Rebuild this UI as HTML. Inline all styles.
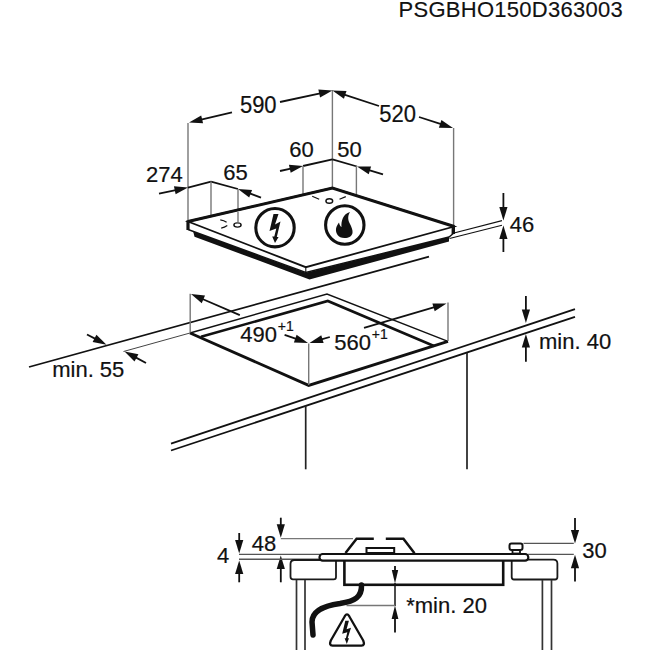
<!DOCTYPE html>
<html><head><meta charset="utf-8"><style>
html,body{margin:0;padding:0;background:#fff;width:650px;height:650px;overflow:hidden}
svg{display:block}
text{font-family:"Liberation Sans",sans-serif;fill:#111;stroke:#111;stroke-width:0.2px}
</style></head><body>
<svg width="650" height="650" viewBox="0 0 650 650">
<text x="398.6" y="16.6" font-size="22" text-anchor="start" letter-spacing="0.27" style="stroke-width:0.15px">PSGBHO150D363003</text>
<line x1="188" y1="123" x2="188" y2="221.5" stroke="#777" stroke-width="1.4"/>
<line x1="232" y1="112.3" x2="201.16250129531633" y2="119.61494155320403" stroke="#111" stroke-width="1.8"/>
<polygon points="189.00,122.50 201.19,115.39 203.08,123.37" fill="#111"/>
<text transform="translate(239.9 113) scale(1 1.06)" font-size="22" text-anchor="start" >590</text>
<line x1="280" y1="102" x2="320.185716357042" y2="93.25730598339162" stroke="#111" stroke-width="1.8"/>
<polygon points="332.40,90.60 320.08,97.48 318.34,89.46" fill="#111"/>
<line x1="332.4" y1="90" x2="332.4" y2="188" stroke="#777" stroke-width="1.4"/>
<line x1="379" y1="106" x2="344.26868955655294" y2="94.52227079765913" stroke="#111" stroke-width="1.8"/>
<polygon points="332.40,90.60 346.50,90.94 343.93,98.73" fill="#111"/>
<text transform="translate(379.2 121.6) scale(1 1.07)" font-size="22" text-anchor="start" >520</text>
<line x1="419" y1="117" x2="441.10694351806984" y2="124.15224643231672" stroke="#111" stroke-width="1.8"/>
<polygon points="453.00,128.00 438.89,127.75 441.42,119.94" fill="#111"/>
<line x1="453.6" y1="128" x2="453.6" y2="226.5" stroke="#777" stroke-width="1.4"/>
<line x1="280" y1="171" x2="290.785295450965" y2="168.65537055413805" stroke="#111" stroke-width="1.8"/>
<polygon points="303.00,166.00 290.68,172.87 288.94,164.86" fill="#111"/>
<line x1="303" y1="166" x2="332.4" y2="159.4" stroke="#111" stroke-width="1.8"/>
<line x1="332.4" y1="159.4" x2="357" y2="166.5" stroke="#111" stroke-width="1.8"/>
<line x1="383" y1="174.4" x2="368.9600935378653" y2="170.1340284211206" stroke="#111" stroke-width="1.8"/>
<polygon points="357.00,166.50 371.11,166.50 368.72,174.35" fill="#111"/>
<line x1="303" y1="166" x2="303" y2="195" stroke="#777" stroke-width="1.4"/>
<line x1="356.4" y1="166" x2="356.4" y2="195.6" stroke="#777" stroke-width="1.4"/>
<text transform="translate(289.2 156.5) scale(1 1.0)" font-size="22" text-anchor="start" >60</text>
<text transform="translate(337.2 156.5) scale(1 1.0)" font-size="22" text-anchor="start" >50</text>
<line x1="159" y1="193.6" x2="175.75924475616122" y2="190.13257005044937" stroke="#111" stroke-width="1.8"/>
<polygon points="188.00,187.60 175.61,194.35 173.95,186.32" fill="#111"/>
<line x1="188" y1="187.6" x2="211" y2="181.6" stroke="#111" stroke-width="1.8"/>
<line x1="211" y1="181.6" x2="238" y2="189" stroke="#111" stroke-width="1.8"/>
<line x1="261" y1="197.6" x2="249.7082934253598" y2="193.37788362861278" stroke="#111" stroke-width="1.8"/>
<polygon points="238.00,189.00 252.08,189.89 249.21,197.57" fill="#111"/>
<line x1="211" y1="181.6" x2="211" y2="216" stroke="#777" stroke-width="1.4"/>
<line x1="238" y1="189" x2="238" y2="222.5" stroke="#777" stroke-width="1.4"/>
<text transform="translate(146.01 182) scale(1 1.0)" font-size="22" text-anchor="start" >274</text>
<text transform="translate(223.3 179.5) scale(1 1.0)" font-size="22" text-anchor="start" >65</text>
<polygon points="193,230.8 305.8,272.7 449,236.8 449,241.5 309.5,279.4 194.5,236.8" stroke="#111" stroke-width="0" fill="#111" stroke-linejoin="miter" stroke-linecap="butt"/>
<polygon points="188,221.5 305.8,267.2 453,228 453,233.5 449,237 305.8,272.5 188,229.5" stroke="#111" stroke-width="0" fill="#fff" stroke-linejoin="miter" stroke-linecap="butt"/>
<line x1="305.8" y1="267.2" x2="305.8" y2="272.2" stroke="#111" stroke-width="1.1"/>
<polygon points="188,221.5 332.4,188 454.2,226.5 305.8,267.2" stroke="#111" stroke-width="1.8" fill="#fff" stroke-linejoin="miter" stroke-linecap="butt"/>
<polyline points="188,221.5 332.4,188 454.2,226.5" stroke="#111" stroke-width="3.0" fill="none" stroke-linejoin="miter" stroke-linecap="butt"/>
<line x1="188" y1="220.5" x2="188" y2="230" stroke="#111" stroke-width="3.2"/>
<line x1="453.3" y1="225.5" x2="453.3" y2="234" stroke="#111" stroke-width="3.4"/>
<polyline points="188,229.5 305.8,272.5 449,237 453.3,233.5" stroke="#111" stroke-width="1.4" fill="none" stroke-linejoin="miter" stroke-linecap="butt"/>
<ellipse cx="237.5" cy="225" rx="3.6" ry="2.1" fill="none" stroke="#111" stroke-width="1.4"/>
<ellipse cx="329.3" cy="201" rx="3.4" ry="2.3" fill="none" stroke="#111" stroke-width="1.4"/>
<path d="M220.3 219.8 Q224 220.3 226.6 222.3" fill="none" stroke="#111" stroke-width="1.2"/>
<line x1="238" y1="212" x2="238" y2="222.8" stroke="#777" stroke-width="1.4"/>
<path d="M221.2 228.2 Q224.5 227.6 227.3 225.6" fill="none" stroke="#111" stroke-width="1.2"/>
<line x1="312.2" y1="196.2" x2="319.2" y2="199.3" stroke="#111" stroke-width="1.2"/>
<line x1="339.5" y1="199.3" x2="345.8" y2="196.6" stroke="#111" stroke-width="1.2"/>
<circle cx="275" cy="227.7" r="19.2" fill="none" stroke="#111" stroke-width="3.1"/>
<polygon points="273.5,214 278.5,214 275,224.5 280.5,221.5 276.8,237 278.6,237 275,243 272.2,236.5 274.3,236.5 276.3,228.5 269.5,231" fill="#111"/>
<circle cx="344.8" cy="225" r="19.2" fill="none" stroke="#111" stroke-width="3.1"/>
<path d="M344.5 238 C338 238 335.5 233 336 229 C336.5 225.5 339 222.5 339 222.5 C339.5 225 340.5 226.5 341.5 227 C341 221 343 214 350 212 C348 215 347.5 219 349.5 223 C351.5 227 353 230 352.5 233 C352 236 349 238 344.5 238 Z" fill="#111"/>
<line x1="454" y1="233" x2="502" y2="220.6" stroke="#111" stroke-width="1.1"/>
<line x1="449.5" y1="238.5" x2="502" y2="225.3" stroke="#111" stroke-width="1.1"/>
<line x1="503.4" y1="193" x2="503.4" y2="207.9" stroke="#111" stroke-width="1.8"/>
<polygon points="503.40,220.40 499.30,206.90 507.50,206.90" fill="#111"/>
<line x1="503.4" y1="252" x2="503.4" y2="238.1" stroke="#111" stroke-width="1.8"/>
<polygon points="503.40,225.60 507.50,239.10 499.30,239.10" fill="#111"/>
<text transform="translate(509.7 231.7) scale(1 1.0)" font-size="22" text-anchor="start" >46</text>
<line x1="29" y1="367" x2="429" y2="256.6" stroke="#111" stroke-width="1.8"/>
<line x1="171" y1="443.6" x2="575" y2="309.2" stroke="#111" stroke-width="1.8"/>
<line x1="171" y1="450.5" x2="575" y2="316.8" stroke="#111" stroke-width="1.8"/>
<line x1="305.7" y1="405.5" x2="305.7" y2="469.3" stroke="#222" stroke-width="1.7"/>
<line x1="467" y1="353" x2="467" y2="469.3" stroke="#222" stroke-width="1.7"/>
<polyline points="190,333 327,294 448,341.4" stroke="#111" stroke-width="1.4" fill="none" stroke-linejoin="miter" stroke-linecap="butt"/>
<polyline points="201,336.8 327.8,301 434,346" stroke="#111" stroke-width="2.6" fill="none" stroke-linejoin="miter" stroke-linecap="butt"/>
<polyline points="190,333 308.7,385.4 448,341.4" stroke="#111" stroke-width="2.8" fill="none" stroke-linejoin="miter" stroke-linecap="butt"/>
<line x1="190.2" y1="293.7" x2="190.2" y2="332.5" stroke="#777" stroke-width="1.4"/>
<line x1="239.8" y1="315.2" x2="202.46486921576647" y2="298.98063990521" stroke="#111" stroke-width="1.8"/>
<polygon points="191.00,294.00 205.02,295.62 201.75,303.14" fill="#111"/>
<line x1="448" y1="302.6" x2="448" y2="341" stroke="#777" stroke-width="1.4"/>
<line x1="364" y1="327.8" x2="434.5053877293732" y2="307.1184195993839" stroke="#111" stroke-width="1.8"/>
<polygon points="446.50,303.60 434.70,311.33 432.39,303.47" fill="#111"/>
<line x1="308.7" y1="343.4" x2="308.7" y2="385" stroke="#777" stroke-width="1.4"/>
<line x1="284.6" y1="334.8" x2="296.20334329973787" y2="338.8661288486261" stroke="#111" stroke-width="1.8"/>
<polygon points="308.00,343.00 293.90,342.40 296.62,334.67" fill="#111"/>
<line x1="329.8" y1="337" x2="321.48735660156984" y2="339.4569389354966" stroke="#111" stroke-width="1.8"/>
<polygon points="309.50,343.00 321.28,335.24 323.61,343.11" fill="#111"/>
<text transform="translate(240.2 341.5) scale(1 1.0)" font-size="22" text-anchor="start" >490</text>
<text transform="translate(277.7 330.5) scale(1 1.0)" font-size="14" text-anchor="start" >+1</text>
<text transform="translate(334.2 350) scale(1 1.0)" font-size="22" text-anchor="start" >560</text>
<text transform="translate(371.7 338.5) scale(1 1.0)" font-size="14" text-anchor="start" >+1</text>
<line x1="123.5" y1="351.5" x2="190" y2="333" stroke="#444" stroke-width="1.0"/>
<line x1="87" y1="334.5" x2="95.42377233988975" y2="338.90628091625" stroke="#111" stroke-width="1.8"/>
<polygon points="106.50,344.70 92.64,342.08 96.44,334.81" fill="#111"/>
<line x1="146" y1="363" x2="135.58935692867416" y2="357.35684768096354" stroke="#111" stroke-width="1.8"/>
<polygon points="124.60,351.40 138.42,354.23 134.51,361.44" fill="#111"/>
<text transform="translate(52.2 376.8) scale(1 1.0)" font-size="22" text-anchor="start" >min. 55</text>
<line x1="525.9" y1="296" x2="525.9" y2="310.5" stroke="#111" stroke-width="1.8"/>
<polygon points="525.90,323.00 521.80,309.50 530.00,309.50" fill="#111"/>
<line x1="525.9" y1="361.8" x2="525.9" y2="346.5" stroke="#111" stroke-width="1.8"/>
<polygon points="525.90,334.00 530.00,347.50 521.80,347.50" fill="#111"/>
<text transform="translate(539.01 349) scale(1 1.0)" font-size="22" text-anchor="start" >min. 40</text>
<line x1="239.2" y1="533" x2="239.2" y2="541.0" stroke="#111" stroke-width="1.8"/>
<polygon points="239.20,553.50 235.10,540.00 243.30,540.00" fill="#111"/>
<line x1="239.2" y1="582.3" x2="239.2" y2="573.0" stroke="#111" stroke-width="1.8"/>
<polygon points="239.20,560.50 243.30,574.00 235.10,574.00" fill="#111"/>
<line x1="280.8" y1="517.7" x2="280.8" y2="525.2" stroke="#111" stroke-width="1.8"/>
<polygon points="280.80,537.70 276.70,524.20 284.90,524.20" fill="#111"/>
<line x1="280.8" y1="582.3" x2="280.8" y2="568.0" stroke="#111" stroke-width="1.8"/>
<polygon points="280.80,555.50 284.90,569.00 276.70,569.00" fill="#111"/>
<line x1="280.8" y1="538.6" x2="353" y2="538.6" stroke="#777" stroke-width="1.4"/>
<line x1="239" y1="554.4" x2="320" y2="554.4" stroke="#555" stroke-width="1.4"/>
<line x1="239" y1="559.3" x2="320" y2="559.3" stroke="#555" stroke-width="1.4"/>
<text transform="translate(217.01 563.4) scale(1 1.0)" font-size="22" text-anchor="start" >4</text>
<text transform="translate(251.79999999999998 551) scale(1 1.0)" font-size="22" text-anchor="start" >48</text>
<path d="M290.5 576.5 L290.5 564 Q290.5 560 294.5 560 L336 560 L336 577 Q336 579.4 333.6 579.4 L293 579.4 Q290.5 579.4 290.5 576.5 Z" fill="#fff" stroke="#1a1a1a" stroke-width="1.8"/>
<line x1="296.5" y1="580" x2="296.5" y2="650" stroke="#333" stroke-width="1.7"/>
<line x1="305" y1="580" x2="305" y2="650" stroke="#333" stroke-width="1.7"/>
<path d="M511.7 577 L511.7 559.6 L553.4 559.6 Q557.4 559.6 557.4 563.6 L557.4 577 Q557.4 579.5 555 579.5 L514 579.5 Q511.7 579.5 511.7 577 Z" fill="#fff" stroke="#1a1a1a" stroke-width="1.8"/>
<line x1="542.4" y1="580" x2="542.4" y2="650" stroke="#333" stroke-width="1.7"/>
<line x1="551.5" y1="580" x2="551.5" y2="650" stroke="#333" stroke-width="1.7"/>
<rect x="344.4" y="558" width="158.8" height="26.8" fill="#fff" stroke="#111" stroke-width="2.6"/>
<rect x="512.5" y="549" width="7.5" height="4.5" fill="#fff" stroke="#111" stroke-width="1.8"/>
<rect x="509.5" y="543.5" width="13" height="6.5" rx="2" fill="#fff" stroke="#111" stroke-width="2"/>
<rect x="319.5" y="554" width="208.8" height="6.6" rx="3.2" ry="3.2" fill="#fff" stroke="#111" stroke-width="2.2"/>
<polyline points="345.5,553 356.6,538.8 373.8,538.8" stroke="#111" stroke-width="2.5" fill="none" stroke-linejoin="miter" stroke-linecap="butt"/>
<polyline points="385.8,538.8 403.4,538.8 414.5,553.2" stroke="#111" stroke-width="2.5" fill="none" stroke-linejoin="miter" stroke-linecap="butt"/>
<rect x="366.5" y="548" width="27.7" height="5" fill="#fff" stroke="#111" stroke-width="2"/>
<line x1="523.5" y1="543.4" x2="573.8" y2="543.4" stroke="#555" stroke-width="1.3"/>
<line x1="528" y1="554.3" x2="573.8" y2="554.3" stroke="#555" stroke-width="1.3"/>
<line x1="575" y1="518" x2="575.0" y2="531.0" stroke="#111" stroke-width="1.8"/>
<polygon points="575.00,543.50 570.90,530.00 579.10,530.00" fill="#111"/>
<line x1="575" y1="581.5" x2="575.0" y2="567.3" stroke="#111" stroke-width="1.8"/>
<polygon points="575.00,554.80 579.10,568.30 570.90,568.30" fill="#111"/>
<text transform="translate(582.2 557.7) scale(1 1.0)" font-size="22" text-anchor="start" >30</text>
<line x1="395" y1="566" x2="395.0" y2="571.0" stroke="#111" stroke-width="1.8"/>
<polygon points="395.00,583.50 391.80,570.00 398.20,570.00" fill="#111"/>
<line x1="395" y1="583" x2="395" y2="606" stroke="#111" stroke-width="1.5"/>
<line x1="395" y1="632.6" x2="395.0" y2="618.0" stroke="#111" stroke-width="1.8"/>
<polygon points="395.00,605.50 398.40,619.00 391.60,619.00" fill="#111"/>
<line x1="346.5" y1="605.5" x2="395" y2="605.5" stroke="#777" stroke-width="1.4"/>
<text transform="translate(406.2 613.4) scale(1 1.0)" font-size="22" text-anchor="start" >*min. 20</text>
<path d="M361.5 585 C362 597 355 601 340 603.5 C322 606 312 612 312 622 L313 635" fill="none" stroke="#111" stroke-width="5.5" stroke-linecap="round"/>
<path d="M344.8 616.2 Q347 612.6 349.2 616.2 L363.2 640.5 Q365.2 645.6 361.5 645.6 L332.5 645.6 Q328.8 645.6 330.8 640.5 Z" fill="#fff" stroke="#111" stroke-width="2.3" stroke-linejoin="round"/>
<polygon points="345.3,620.8 348.9,620.8 346.6,629.3 351,627.8 347.7,638.3 349,638.3 346.8,644 344.6,638.3 345.9,638.3 347.3,632.2 342.2,633.8" fill="#111"/>
</svg>
</body></html>
